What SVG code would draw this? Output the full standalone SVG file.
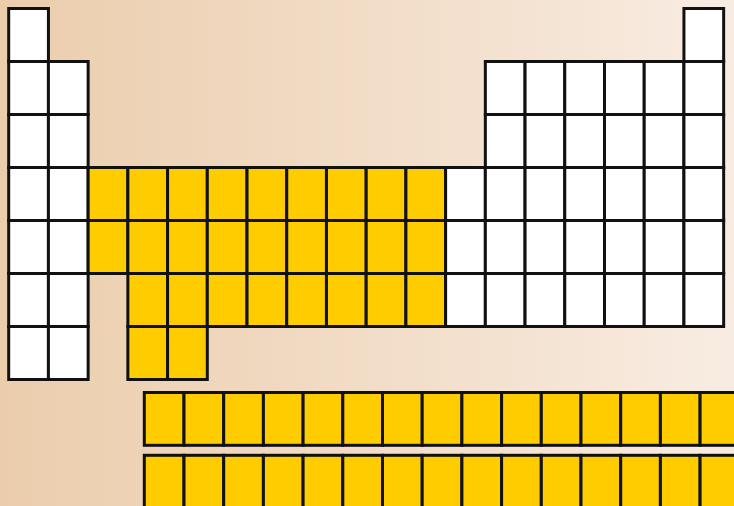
<svg xmlns="http://www.w3.org/2000/svg" width="734" height="506" viewBox="0 0 734 506">
<defs>
<linearGradient id="bg" x1="0" y1="0" x2="1" y2="0">
<stop offset="0" stop-color="#ebcdac"/>
<stop offset="1" stop-color="#f8ece2"/>
</linearGradient>
<style>
rect.c{stroke:#111;stroke-width:3;width:39.72px;height:53px}
rect.w{fill:#ffffff}
rect.y{fill:#ffcc00}
rect.l{stroke:#111;stroke-width:3;width:39.7px;height:52.8px;fill:#ffcc00}
</style>
</defs>
<rect x="0" y="0" width="734" height="506" fill="url(#bg)"/>
<g id="row1">
<rect class="c w" x="8.7" y="8.5"/>
<rect class="c w" x="683.94" y="8.5"/>
</g>
<g id="row2">
<rect class="c w" x="8.7" y="61.5"/><rect class="c w" x="48.42" y="61.5"/>
<rect class="c w" x="485.34" y="61.5"/><rect class="c w" x="525.06" y="61.5"/><rect class="c w" x="564.78" y="61.5"/><rect class="c w" x="604.5" y="61.5"/><rect class="c w" x="644.22" y="61.5"/><rect class="c w" x="683.94" y="61.5"/>
</g>
<g id="row3">
<rect class="c w" x="8.7" y="114.5"/><rect class="c w" x="48.42" y="114.5"/>
<rect class="c w" x="485.34" y="114.5"/><rect class="c w" x="525.06" y="114.5"/><rect class="c w" x="564.78" y="114.5"/><rect class="c w" x="604.5" y="114.5"/><rect class="c w" x="644.22" y="114.5"/><rect class="c w" x="683.94" y="114.5"/>
</g>
<g id="row4">
<rect class="c w" x="8.7" y="167.5"/><rect class="c w" x="48.42" y="167.5"/>
<rect class="c y" x="88.14" y="167.5"/><rect class="c y" x="127.86" y="167.5"/><rect class="c y" x="167.58" y="167.5"/><rect class="c y" x="207.3" y="167.5"/><rect class="c y" x="247.02" y="167.5"/><rect class="c y" x="286.74" y="167.5"/><rect class="c y" x="326.46" y="167.5"/><rect class="c y" x="366.18" y="167.5"/><rect class="c y" x="405.9" y="167.5"/>
<rect class="c w" x="445.62" y="167.5"/><rect class="c w" x="485.34" y="167.5"/><rect class="c w" x="525.06" y="167.5"/><rect class="c w" x="564.78" y="167.5"/><rect class="c w" x="604.5" y="167.5"/><rect class="c w" x="644.22" y="167.5"/><rect class="c w" x="683.94" y="167.5"/>
</g>
<g id="row5">
<rect class="c w" x="8.7" y="220.5"/><rect class="c w" x="48.42" y="220.5"/>
<rect class="c y" x="88.14" y="220.5"/><rect class="c y" x="127.86" y="220.5"/><rect class="c y" x="167.58" y="220.5"/><rect class="c y" x="207.3" y="220.5"/><rect class="c y" x="247.02" y="220.5"/><rect class="c y" x="286.74" y="220.5"/><rect class="c y" x="326.46" y="220.5"/><rect class="c y" x="366.18" y="220.5"/><rect class="c y" x="405.9" y="220.5"/>
<rect class="c w" x="445.62" y="220.5"/><rect class="c w" x="485.34" y="220.5"/><rect class="c w" x="525.06" y="220.5"/><rect class="c w" x="564.78" y="220.5"/><rect class="c w" x="604.5" y="220.5"/><rect class="c w" x="644.22" y="220.5"/><rect class="c w" x="683.94" y="220.5"/>
</g>
<g id="row6">
<rect class="c w" x="8.7" y="273.5"/><rect class="c w" x="48.42" y="273.5"/>
<rect class="c y" x="127.86" y="273.5"/><rect class="c y" x="167.58" y="273.5"/><rect class="c y" x="207.3" y="273.5"/><rect class="c y" x="247.02" y="273.5"/><rect class="c y" x="286.74" y="273.5"/><rect class="c y" x="326.46" y="273.5"/><rect class="c y" x="366.18" y="273.5"/><rect class="c y" x="405.9" y="273.5"/>
<rect class="c w" x="445.62" y="273.5"/><rect class="c w" x="485.34" y="273.5"/><rect class="c w" x="525.06" y="273.5"/><rect class="c w" x="564.78" y="273.5"/><rect class="c w" x="604.5" y="273.5"/><rect class="c w" x="644.22" y="273.5"/><rect class="c w" x="683.94" y="273.5"/>
</g>
<g id="row7">
<rect class="c w" x="8.7" y="326.5"/><rect class="c w" x="48.42" y="326.5"/>
<rect class="c y" x="127.86" y="326.5"/><rect class="c y" x="167.58" y="326.5"/>
</g>
<g id="lanthanides">
<rect class="l" x="144.3" y="392.5"/><rect class="l" x="184" y="392.5"/><rect class="l" x="223.7" y="392.5"/><rect class="l" x="263.4" y="392.5"/><rect class="l" x="303.1" y="392.5"/><rect class="l" x="342.8" y="392.5"/><rect class="l" x="382.5" y="392.5"/><rect class="l" x="422.2" y="392.5"/><rect class="l" x="461.9" y="392.5"/><rect class="l" x="501.6" y="392.5"/><rect class="l" x="541.3" y="392.5"/><rect class="l" x="581" y="392.5"/><rect class="l" x="620.7" y="392.5"/><rect class="l" x="660.4" y="392.5"/><rect class="l" x="700.1" y="392.5"/>
</g>
<g id="actinides">
<rect class="l" x="144.3" y="455.3"/><rect class="l" x="184" y="455.3"/><rect class="l" x="223.7" y="455.3"/><rect class="l" x="263.4" y="455.3"/><rect class="l" x="303.1" y="455.3"/><rect class="l" x="342.8" y="455.3"/><rect class="l" x="382.5" y="455.3"/><rect class="l" x="422.2" y="455.3"/><rect class="l" x="461.9" y="455.3"/><rect class="l" x="501.6" y="455.3"/><rect class="l" x="541.3" y="455.3"/><rect class="l" x="581" y="455.3"/><rect class="l" x="620.7" y="455.3"/><rect class="l" x="660.4" y="455.3"/><rect class="l" x="700.1" y="455.3"/>
</g>
</svg>
